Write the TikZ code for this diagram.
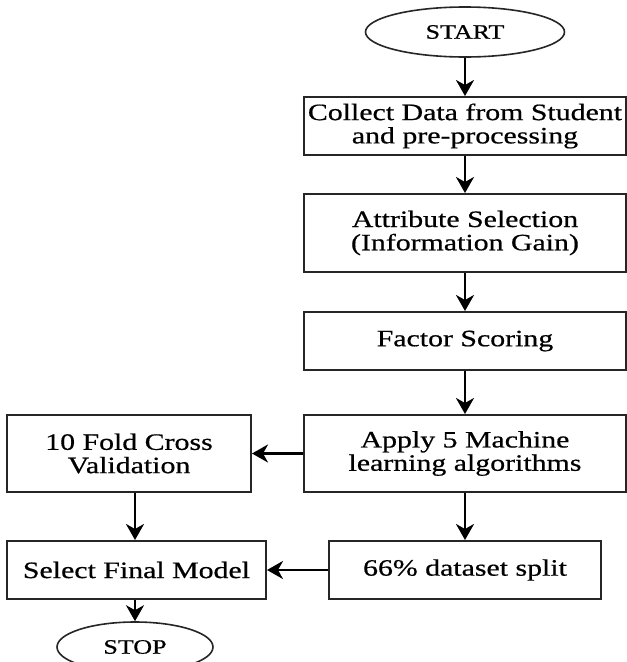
\documentclass[tikz,border=0pt]{standalone}
\usepackage{fontspec}
\setmainfont{Liberation Serif}[FakeStretch=1.27,FakeBold=0.6]
\usetikzlibrary{arrows.meta,shapes.geometric}
\begin{document}
\begin{tikzpicture}[x=1pt,y=-1pt,
  box/.style={draw=black!85, line width=2pt, rectangle, inner sep=0pt, align=center,
    font=\fontsize{23.5}{23.3}\selectfont},
  term/.style={draw=black!85, line width=1.6pt, ellipse, inner sep=0pt,
    font=\fontsize{20.5}{21}\selectfont},
  conn/.style={line width=2.4pt, -{Stealth[length=16pt,width=18pt,inset=5pt]}}]
\useasboundingbox (0,0) rectangle (627,662);
\node[term, minimum width=199pt, minimum height=50pt] (start) at (465,32) {START};
\node[box, minimum width=322pt, minimum height=58pt] (collect) at (465,126) {Collect Data from Student\\and pre-processing};
\node[box, minimum width=322pt, minimum height=78pt] (attr) at (465,233) {Attribute Selection\\(Information Gain)};
\node[box, minimum width=322pt, minimum height=58pt] (factor) at (465,341) {Factor Scoring};
\node[box, minimum width=322pt, minimum height=77pt] (apply) at (465,453.5) {Apply 5 Machine\\learning algorithms};
\node[box, minimum width=244pt, minimum height=77pt] (fold) at (129,453.5) {10 Fold Cross\\Validation};
\node[box, minimum width=272pt, minimum height=58pt] (split) at (465,570) {66\% dataset split};
\node[box, minimum width=259pt, minimum height=58pt] (select) at (136.5,570) {Select Final Model};
\node[term, minimum width=156pt, minimum height=50pt] (stop) at (135,647) {STOP};
\draw[conn] (start) -- (collect);
\draw[conn] (collect) -- (attr);
\draw[conn] (attr) -- (factor);
\draw[conn] (factor) -- (apply);
\draw[conn] (apply) -- (fold);
\draw[conn] (apply) -- (split);
\draw[conn] (fold.south -| stop) -- (select.north -| stop);
\draw[conn] (split) -- (select);
\draw[conn] (select.south -| stop) -- (stop);
\end{tikzpicture}
\end{document}
